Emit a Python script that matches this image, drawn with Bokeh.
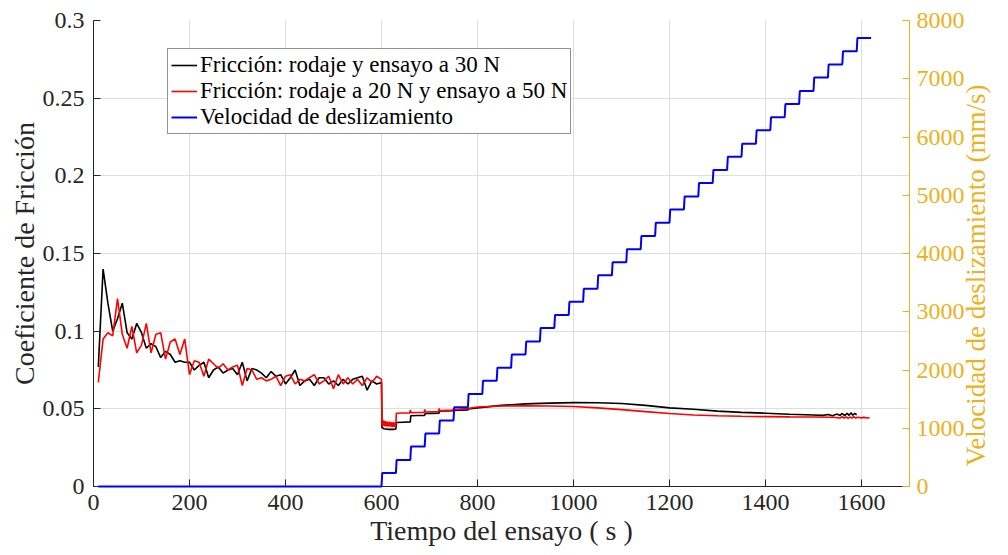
import math
from bokeh.plotting import figure
from bokeh.models import (Range1d, LinearAxis, FixedTicker, CustomJSTickFormatter,
                          Legend, LegendItem)
from bokeh.embed import file_html
from bokeh.resources import INLINE

# ---------------- data ----------------
time_1 = [10, 20, 30, 40, 50, 60, 70, 80, 90, 100, 110, 120, 130, 140, 150, 160, 170, 180, 190, 200,
          210, 220, 230, 240, 250, 260, 270, 280, 290, 300, 310, 320, 330, 340, 350, 360, 370, 380, 390, 400,
          410, 420, 430, 440, 450, 460, 470, 480, 490, 500, 510, 520, 530, 540, 550, 560, 570, 580, 590, 600]

black_mu_1 = [0.077, 0.140, 0.118, 0.100, 0.108, 0.118, 0.099, 0.095, 0.105, 0.099,
              0.089, 0.092, 0.090, 0.083, 0.087, 0.085, 0.080, 0.081, 0.080, 0.080,
              0.075, 0.078, 0.080, 0.070, 0.075, 0.077, 0.073, 0.075, 0.076, 0.072,
              0.080, 0.068, 0.076, 0.075, 0.073, 0.070, 0.074, 0.071, 0.072, 0.066,
              0.070, 0.075, 0.065, 0.068, 0.069, 0.065, 0.070, 0.070, 0.066, 0.068,
              0.065, 0.069, 0.066, 0.069, 0.070, 0.071, 0.062, 0.068, 0.066, 0.067]

red_mu_1 = [0.067, 0.095, 0.099, 0.097, 0.121, 0.098, 0.089, 0.103, 0.086, 0.091,
            0.105, 0.086, 0.098, 0.099, 0.082, 0.093, 0.095, 0.085, 0.095, 0.072,
            0.081, 0.080, 0.071, 0.082, 0.079, 0.076, 0.079, 0.075, 0.077, 0.078,
            0.065, 0.076, 0.075, 0.069, 0.070, 0.068, 0.069, 0.071, 0.065, 0.071,
            0.072, 0.066, 0.069, 0.068, 0.070, 0.072, 0.066, 0.068, 0.071, 0.063,
            0.072, 0.066, 0.070, 0.066, 0.069, 0.065, 0.070, 0.067, 0.071, 0.069]

black_t_2 = [601, 605, 615, 625, 630, 631, 645, 660, 661, 675, 690, 691, 705, 720, 721, 735, 750, 751,
             765, 780, 781, 800, 850, 900, 950, 1000, 1050, 1100, 1150, 1200, 1250, 1300, 1350, 1400,
             1450, 1500, 1520, 1530, 1540, 1548, 1555, 1560, 1565, 1570, 1574, 1578, 1582, 1586, 1590]
black_mu_2 = [0.038, 0.0372, 0.0368, 0.0368, 0.037, 0.0412, 0.0414, 0.0416, 0.0455, 0.0457, 0.0458,
              0.047, 0.0471, 0.0472, 0.0486, 0.0487, 0.0488, 0.049, 0.0491, 0.0493, 0.050, 0.0506,
              0.0522, 0.0532, 0.0537, 0.054, 0.0539, 0.0534, 0.0522, 0.0506, 0.0497, 0.0485, 0.0477,
              0.0472, 0.0465, 0.046, 0.0458, 0.0463, 0.0455, 0.0466, 0.0458, 0.0470, 0.0456, 0.0472,
              0.0458, 0.0474, 0.0459, 0.0471, 0.0462]

red_t_2 = [601, 602, 604, 606, 608, 610, 612, 614, 616, 618, 620, 622, 624, 626, 628, 630,
           631, 645, 659, 660, 662, 675, 689, 690, 692, 705, 719, 720, 722, 735, 749, 750, 752,
           780, 800, 850, 900, 950, 1000, 1050, 1100, 1150, 1200, 1250, 1300, 1350, 1400, 1450,
           1500, 1540, 1555, 1560, 1564, 1568, 1572, 1576, 1580, 1584, 1588, 1592, 1598, 1605, 1612, 1617]
red_mu_2 = [0.042, 0.039, 0.0425, 0.0388, 0.042, 0.0387, 0.0418, 0.0385, 0.0418, 0.0385, 0.0415,
            0.0383, 0.0415, 0.0382, 0.0412, 0.040, 0.0472, 0.0473, 0.0474, 0.0492, 0.0475, 0.0476,
            0.0477, 0.0495, 0.048, 0.0481, 0.0482, 0.0502, 0.0488, 0.049, 0.0492, 0.0502, 0.0495,
            0.0502, 0.0512, 0.0518, 0.052, 0.0518, 0.0515, 0.0506, 0.0495, 0.0482, 0.047, 0.046,
            0.0455, 0.0452, 0.045, 0.0448, 0.0447, 0.0446, 0.0441, 0.0449, 0.044, 0.0448, 0.0439,
            0.0447, 0.0441, 0.0449, 0.044, 0.0446, 0.0442, 0.0445, 0.0441, 0.0443]

vel_step_t = [600, 630, 660, 690, 720, 750, 780, 810, 840, 870, 900, 930, 960, 990, 1020, 1050, 1080,
              1110, 1140, 1170, 1200, 1230, 1260, 1290, 1320, 1350, 1380, 1410, 1440, 1470, 1500,
              1530, 1560, 1590]
vel_levels = [230, 455, 685, 910, 1135, 1360, 1590, 1815, 2040, 2265, 2490, 2720, 2945, 3170, 3395,
              3625, 3850, 4075, 4300, 4530, 4755, 4980, 5210, 5435, 5660, 5885, 6115, 6340, 6565,
              6790, 7020, 7245, 7470, 7700]
vel_start_t = 10
vel_end_t = 1620

x_ticks = [0, 200, 400, 600, 800, 1000, 1200, 1400, 1600]
y_ticks = [0, 0.05, 0.1, 0.15, 0.2, 0.25, 0.3]
y2_ticks = [0, 1000, 2000, 3000, 4000, 5000, 6000, 7000, 8000]

labels = ["Fricción: rodaje y ensayo a 30 N",
          "Fricción: rodaje a 20 N y ensayo a 50 N",
          "Velocidad de deslizamiento"]
y2_title = "Velocidad de deslizamiento (mm/s)"

# ---------------- style ----------------
FONT = "Liberation Serif"
AX = "#262626"
ORANGE = "#EDB120"
GRID = "#dedede"

p = figure(width=1008, height=555, output_backend="svg", toolbar_location=None,
           x_range=Range1d(0, 1700), y_range=Range1d(0, 0.3),
           min_border_left=93, min_border_right=95, min_border_top=20, min_border_bottom=69)
p.outline_line_color = None
p.background_fill_color = "white"
p.border_fill_color = "white"
p.extra_y_ranges = {"vel": Range1d(0, 8000)}

p.xgrid.ticker = FixedTicker(ticks=x_ticks)
p.ygrid.ticker = FixedTicker(ticks=y_ticks)
for g in (p.xgrid[0], p.ygrid[0]):
    g.grid_line_color = GRID
    g.grid_line_width = 1

def style_axis(ax, color):
    ax.axis_line_color = color
    ax.axis_line_width = 1
    ax.major_tick_line_color = color
    ax.major_tick_in = 7
    ax.major_tick_out = 0
    ax.minor_tick_line_color = None
    ax.major_label_text_font = FONT
    ax.major_label_text_font_size = "24px"
    ax.major_label_text_color = color
    ax.axis_label_text_font = FONT
    ax.axis_label_text_font_size = "28px"
    ax.axis_label_text_font_style = "normal"
    ax.axis_label_text_color = color

xa = p.xaxis[0]
style_axis(xa, AX)
xa.ticker = FixedTicker(ticks=x_ticks)
xa.axis_label = "Tiempo del ensayo ( s )"
xa.major_label_standoff = 8
xa.axis_label_standoff = 2

ya = p.yaxis[0]
style_axis(ya, AX)
ya.ticker = FixedTicker(ticks=y_ticks)
ya.formatter = CustomJSTickFormatter(code="return String(Math.round(tick*100)/100);")
ya.axis_label = "Coeficiente de Fricción"
ya.major_label_standoff = 9
ya.axis_label_standoff = 0

ya2 = LinearAxis(y_range_name="vel")
style_axis(ya2, ORANGE)
ya2.ticker = FixedTicker(ticks=y2_ticks)
ya2.major_label_standoff = 7
# label reads bottom-to-top; anchored at the bottom of the axis, nudged up slightly
ya2.axis_label = "\u00a0\u00a0\u00a0" + y2_title
ya2.axis_label_text_font_size = "27px"
ya2.axis_label_orientation = math.pi / 2
ya2.axis_label_standoff = 8
try:
    ya2.axis_label_align = "start"
except Exception:
    pass
p.add_layout(ya2, "right")

# ---------------- glyphs ----------------
black_t = time_1 + black_t_2
black_mu = black_mu_1 + black_mu_2
red_t = time_1 + red_t_2
red_mu = red_mu_1 + red_mu_2

vx = [vel_start_t, vel_step_t[0]]
vy = [0, 0]
for i, (t0, lv) in enumerate(zip(vel_step_t, vel_levels)):
    t_next = vel_step_t[i + 1] if i + 1 < len(vel_step_t) else vel_end_t
    vx += [t0 + 1.5, t_next]
    vy += [lv, lv]

r_black = p.line(black_t, black_mu, line_color="black", line_width=1.6)
r_red = p.line(red_t, red_mu, line_color="#ff0000", line_width=1.6)
r_blue = p.line(vx, vy, line_color="#0000ff", line_width=2, y_range_name="vel", level="overlay")

legend = Legend(items=[LegendItem(label=labels[0], renderers=[r_black]),
                       LegendItem(label=labels[1], renderers=[r_red]),
                       LegendItem(label=labels[2], renderers=[r_blue])],
                location=(74, 352))
legend.label_text_font = FONT
legend.label_text_font_size = "23px"
legend.label_text_color = "black"
legend.glyph_width = 26
legend.glyph_height = 26
legend.label_height = 26
legend.label_standoff = 3
legend.padding = 3
legend.spacing = 0
legend.margin = 0
legend.border_line_color = AX
legend.border_line_width = 1
legend.background_fill_color = "white"
legend.background_fill_alpha = 1
p.add_layout(legend, "center")

open("out.html", "w").write(file_html(p, INLINE))
